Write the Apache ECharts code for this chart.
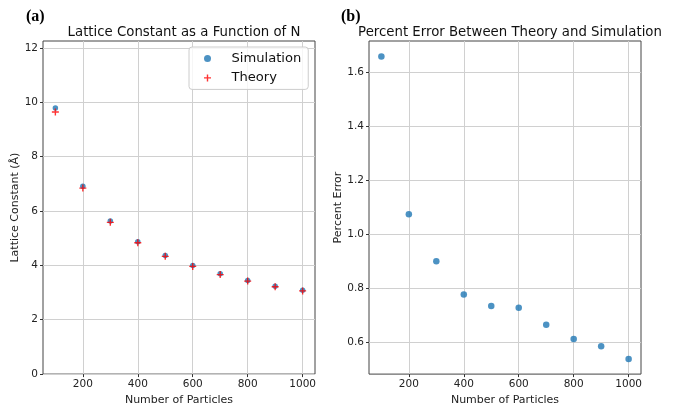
<!DOCTYPE html>
<html>
<head>
<meta charset="utf-8">
<script src="https://cdn.jsdelivr.net/npm/echarts@6/dist/echarts.min.js"></script>
<style>
  html, body { margin: 0; padding: 0; background: #fff; }
  #main { width: 673px; height: 411px; }
</style>
</head>
<body>
<div id="main"></div>
<script>
// number of particles
var particles = [100, 200, 300, 400, 500, 600, 700, 800, 900, 1000];
// lattice constant (Å)
var simulation = [9.79, 6.91, 5.63, 4.87, 4.36, 3.99, 3.69, 3.44, 3.23, 3.08];
var theory = [9.64, 6.84, 5.58, 4.83, 4.33, 3.96, 3.66, 3.42, 3.21, 3.06];
// percent error between theory and simulation
var percentError = [1.659, 1.075, 0.901, 0.778, 0.735, 0.729, 0.666, 0.613, 0.586, 0.539];
// tick labels
var xTicks = [200, 400, 600, 800, 1000];
var yTicksLeft = [0, 2, 4, 6, 8, 10, 12];
var yTicksRight = [0.6, 0.8, 1.0, 1.2, 1.4, 1.6];

var FONT = 'DejaVu Sans';
var plusPath = 'path://M4,0H6V4H10V6H6V10H4V6H0V4H4Z';

function pairs(xs, ys) {
    var res = [];
    for (var i = 0; i < xs.length; i++) {
        res.push([xs[i], ys[i]]);
    }
    return res;
}

function xAxisOf(idx) {
    return {
        type: 'value',
        gridIndex: idx,
        min: 55,
        max: 1045,
        name: 'Number of Particles',
        nameLocation: 'middle',
        nameGap: 16,
        nameTextStyle: { fontFamily: FONT, fontSize: 11, color: '#222' },
        axisLine: { show: false },
        axisTick: { show: true, length: 3, customValues: xTicks, lineStyle: { color: '#333' } },
        axisLabel: { customValues: xTicks, margin: 5, fontFamily: FONT, fontSize: 10.5, color: '#222',
                     formatter: function (v) { return String(v); } },
        splitLine: { show: true, lineStyle: { color: '#d0d0d0', width: 1 } }
    };
}

function yAxisOf(idx, min, max, ticks, name, gap, fmt) {
    return {
        type: 'value',
        gridIndex: idx,
        min: min,
        max: max,
        name: name,
        nameLocation: 'middle',
        nameGap: gap,
        nameTextStyle: { fontFamily: FONT, fontSize: 11, color: '#222' },
        axisLine: { show: false },
        axisTick: { show: true, length: 3, customValues: ticks, lineStyle: { color: '#333' } },
        axisLabel: { customValues: ticks, margin: 5, fontFamily: FONT, fontSize: 10.5, color: '#222', formatter: fmt },
        splitLine: { show: true, lineStyle: { color: '#d0d0d0', width: 1 } }
    };
}

var myChart = echarts.init(document.getElementById('main'));

var option = {
    backgroundColor: '#fff',
    animation: false,
    title: [
        { text: '(a)', left: 21, top: 4, textStyle: { fontFamily: 'Liberation Serif', fontWeight: 'bold', fontSize: 16, color: '#000' } },
        { text: '(b)', left: 336, top: 4, textStyle: { fontFamily: 'Liberation Serif', fontWeight: 'bold', fontSize: 16, color: '#000' } },
        { text: 'Lattice Constant as a Function of N', left: 179, top: 21.5, textAlign: 'center',
          textStyle: { fontFamily: FONT, fontWeight: 'normal', fontSize: 13.3, color: '#111' } },
        { text: 'Percent Error Between Theory and Simulation', left: 505, top: 21.5, textAlign: 'center',
          textStyle: { fontFamily: FONT, fontWeight: 'normal', fontSize: 13.3, color: '#111' } }
    ],
    grid: [
        { left: 43, top: 41, width: 272, height: 341, show: true, borderColor: '#444', borderWidth: 1, backgroundColor: 'transparent' },
        { left: 369, top: 41, width: 272, height: 341, show: true, borderColor: '#444', borderWidth: 1, backgroundColor: 'transparent' }
    ],
    legend: {
        left: 189,
        top: 47,
        orient: 'vertical',
        padding: [4, 7, 4, 15],
        itemWidth: 30,
        itemHeight: 7,
        itemGap: 4.4,
        borderColor: '#ccc',
        borderWidth: 1,
        borderRadius: 3,
        backgroundColor: 'rgba(255,255,255,0.8)',
        textStyle: { fontFamily: FONT, fontSize: 13.1, color: '#111', lineHeight: 15, padding: [0, 0, 0, 4] },
        data: [
            { name: 'Simulation', icon: 'circle' },
            { name: 'Theory', icon: plusPath }
        ]
    },
    xAxis: [xAxisOf(0), xAxisOf(1)],
    yAxis: [
        yAxisOf(0, 0, 12.25, yTicksLeft, 'Lattice Constant (Å)', 20, function (v) { return String(v); }),
        yAxisOf(1, 0.483, 1.716, yTicksRight, 'Percent Error', 25, function (v) { return v.toFixed(1); })
    ],
    series: [
        {
            name: 'Simulation',
            type: 'scatter',
            xAxisIndex: 0,
            yAxisIndex: 0,
            symbol: 'circle',
            symbolSize: 5.5,
            itemStyle: { color: '#1f77b4' },
            data: pairs(particles, simulation)
        },
        {
            name: 'Theory',
            type: 'scatter',
            xAxisIndex: 0,
            yAxisIndex: 0,
            symbol: plusPath,
            symbolSize: 7,
            itemStyle: { color: '#ff0000' },
            data: pairs(particles, theory)
        },
        {
            name: 'Percent Error',
            type: 'scatter',
            xAxisIndex: 1,
            yAxisIndex: 1,
            symbol: 'circle',
            symbolSize: 6.5,
            itemStyle: { color: '#1f77b4' },
            data: pairs(particles, percentError)
        }
    ]
};

myChart.setOption(option);
window.addEventListener('resize', function () {
    myChart.resize();
});
</script>
</body>
</html>
